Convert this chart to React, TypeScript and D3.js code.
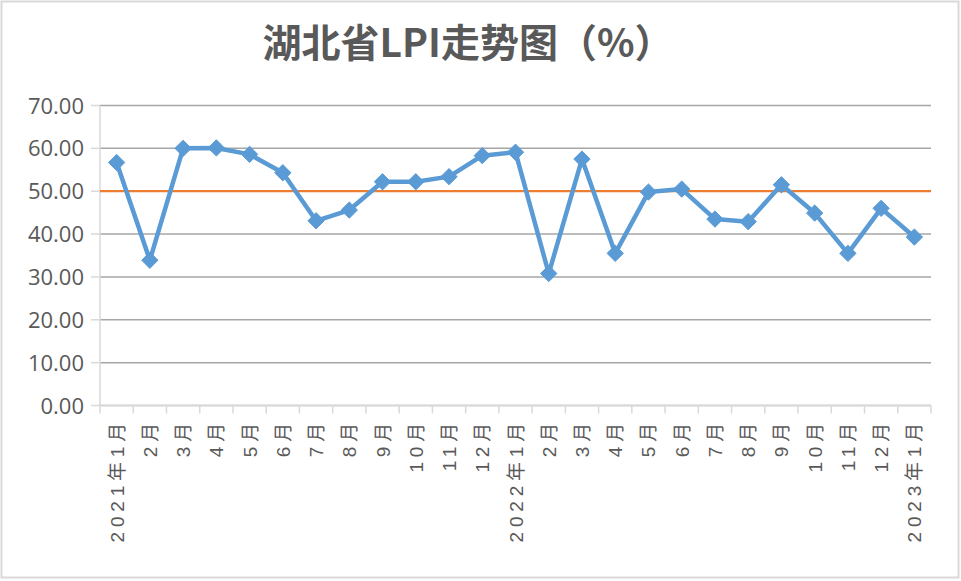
import React from "react";
import * as d3 from "d3";

const categories: string[] = [
  "2021年1月", "2月", "3月", "4月", "5月", "6月", "7月", "8月", "9月", "10月", "11月", "12月",
  "2022年1月", "2月", "3月", "4月", "5月", "6月", "7月", "8月", "9月", "10月", "11月", "12月",
  "2023年1月",
];
const lpiValues: number[] = [
  56.7, 33.9, 60.0, 60.1, 58.6, 54.3, 43.1, 45.6, 52.2, 52.2, 53.4, 58.3,
  59.1, 30.8, 57.5, 35.5, 49.8, 50.5, 43.5, 42.9, 51.5, 44.9, 35.5, 46.0,
  39.3,
];
const referenceLine = 50;
const yTicks: number[] = [0, 10, 20, 30, 40, 50, 60, 70];
const title = "湖北省LPI走势图（%）";

const W = 961;
const H = 581;
const left = 100;
const right = 931;
const top = 105.5;
const bottom = 405.5;

export default function App() {
  React.useEffect(() => {
    document.body.style.margin = "0";
  }, []);

  const x = d3.scaleBand<number>().domain(d3.range(categories.length)).range([left, right]).padding(0);
  const y = d3.scaleLinear().domain([0, 70]).range([bottom, top]);
  const cx = (i: number) => (x(i) as number) + x.bandwidth() / 2;

  const line = d3
    .line<number>()
    .x((_, i) => cx(i))
    .y((d) => y(d));

  const diamond = d3.symbol().type(d3.symbolDiamond2).size(170)() as string;

  const boundaries = d3.range(categories.length + 1).map((i) => left + i * x.bandwidth());

  return (
    <svg width={W} height={H} viewBox={`0 0 ${W} ${H}`} style={{ display: "block", background: "#fff" }}>
      <rect x={1.5} y={1.5} width={W - 4} height={H - 5} fill="#fff" stroke="#d9d9d9" strokeWidth={2} />
      <text
        x={468}
        y={57}
        textAnchor="middle"
        fontFamily="'Noto Sans CJK SC', 'Noto Sans', sans-serif"
        fontWeight={700}
        fontSize={39}
        fill="#595959"
      >
        {title}
      </text>

      {/* gridlines */}
      {yTicks.map((t) => (
        <line key={t} x1={left} x2={right} y1={y(t)} y2={y(t)} stroke="#a6a6a6" strokeWidth={1.5} />
      ))}
      {/* y axis */}
      <line x1={left} x2={left} y1={top} y2={bottom} stroke="#d9d9d9" strokeWidth={1.5} />
      {yTicks.map((t) => (
        <line key={"yt" + t} x1={left - 9} x2={left} y1={y(t)} y2={y(t)} stroke="#d9d9d9" strokeWidth={1.5} />
      ))}
      {yTicks.map((t) => (
        <text
          key={"yl" + t}
          x={84}
          y={y(t) + 8}
          textAnchor="end"
          fontFamily="'Open Sans', 'Noto Sans', sans-serif"
          fontSize={22}
          fill="#595959"
        >
          {d3.format(".2f")(t)}
        </text>
      ))}
      {/* x axis */}
      <line x1={left} x2={right} y1={bottom} y2={bottom} stroke="#d9d9d9" strokeWidth={1.5} />
      {boundaries.map((b, i) => (
        <line key={"xt" + i} x1={b} x2={b} y1={bottom} y2={bottom + 8} stroke="#d9d9d9" strokeWidth={1.5} />
      ))}
      {categories.map((c, i) => (
        <text
          key={"xl" + i}
          transform={`translate(${cx(i) + 7},${418}) rotate(-90)`}
          textAnchor="end"
          fontFamily="'Liberation Sans', 'Noto Sans CJK SC', sans-serif"
          fontSize={19}
          letterSpacing={4.8}
          fill="#595959"
        >
          {c}
        </text>
      ))}

      {/* reference line */}
      <line
        x1={left}
        x2={right}
        y1={y(referenceLine)}
        y2={y(referenceLine)}
        stroke="#ed7d31"
        strokeWidth={2.25}
      />

      {/* series */}
      <path d={line(lpiValues) as string} fill="none" stroke="#5b9bd5" strokeWidth={4.5} strokeLinejoin="round" />
      {lpiValues.map((v, i) => (
        <path key={"m" + i} d={diamond} transform={`translate(${cx(i)},${y(v)})`} fill="#5b9bd5" stroke="#5b9bd5" strokeWidth={1} />
      ))}
    </svg>
  );
}
